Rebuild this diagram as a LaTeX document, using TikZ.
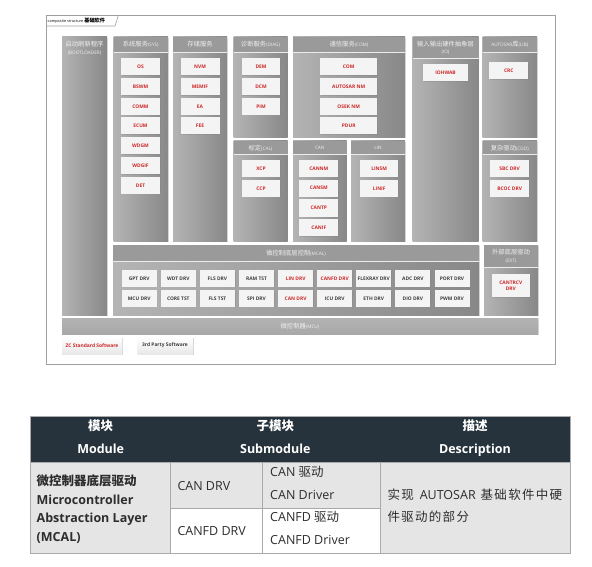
\documentclass[tikz,border=0pt]{standalone}
\usepackage{fontspec}
\setmainfont{Open Sans}
\newfontfamily\cjk{Noto Sans CJK SC}
\usetikzlibrary{shadows}
\definecolor{zred}{RGB}{206,40,40}
\definecolor{zdark}{RGB}{62,62,62}
\definecolor{thdr}{RGB}{39,51,60}
\definecolor{cellg}{RGB}{229,229,229}
\definecolor{tline}{RGB}{170,170,170}
\definecolor{colL}{RGB}{180,180,180}
\definecolor{colR}{RGB}{136,136,136}
\definecolor{colH}{RGB}{154,154,154}
\definecolor{htext}{RGB}{240,240,240}
\definecolor{boxf}{RGB}{244,244,244}
\definecolor{ttext}{RGB}{45,45,45}
\newcommand\zc[1]{{\cjk\fontsize{6.3}{7.5}\selectfont #1}}
\newcommand\zl[1]{{\fontsize{4.7}{7.5}\selectfont #1}}
\newcommand\zcol[7]{%
  \pgfmathsetmacro\zw{#4-#2}\pgfmathsetmacro\zh{#5-#3}%
  \node[colbody, minimum width=\zw pt, minimum height=\zh pt] (#1) at (#2,#3) {};%
  \fill[colH] (#2,#3) rectangle (#4,#6);%
  \draw[hline] (#2,#6) -- (#4,#6);%
  \node[htxt] (#1t) at ({(#2+#4)/2},{(#3+#6)/2}) {#7};%
}
\newcommand\cg{\hspace{1.3pt}}
\tikzset{
  colbody/.style={anchor=north west, inner sep=0pt, outer sep=0pt, left color=colL, right color=colR,
    drop shadow={shadow xshift=0.8pt, shadow yshift=-0.8pt, opacity=0.25}},
  hline/.style={draw=white!85!gray, line width=0.6pt},
  htxt/.style={text=htext, align=center, inner sep=0pt, font=\fontsize{6.3}{7.5}\selectfont},
  ibox/.style={fill=boxf, inner sep=0pt, minimum width=39pt, minimum height=17pt,
    font=\fontsize{4.9}{5.6}\selectfont\bfseries, text=zred, align=center,
    drop shadow={shadow xshift=0.6pt, shadow yshift=-0.6pt, opacity=0.3}},
  mbox/.style={ibox, minimum width=35pt, minimum height=16.7pt, text=zdark},
  mboxr/.style={mbox, text=zred},
  lbox/.style={inner sep=0pt, minimum height=17pt, top color=white, bottom color=gray!18,
    font=\fontsize{4.9}{5.6}\selectfont\bfseries,
    drop shadow={shadow xshift=0.8pt, shadow yshift=-0.8pt, opacity=0.3}},
  tl/.style={draw=tline, line width=0.8pt},
  ttx/.style={inner sep=0pt, text=ttext, font=\fontsize{12.5}{15}\selectfont},
  thx/.style={inner sep=0pt, text=white, font=\fontsize{12.5}{15}\selectfont\bfseries, anchor=base},
}
\begin{document}
\begin{tikzpicture}[x=1pt,y=-1pt]
\useasboundingbox (0,0) rectangle (592,567);
\fill[white] (0,0) rectangle (592,567);
% frame
\draw[draw=gray!75, line width=0.8pt] (46,15) rectangle (555,364);
\draw[draw=gray!75, line width=0.6pt] (46,26) -- (115,26) -- (118.5,15);
\node[inner sep=0pt, anchor=west, font=\fontsize{3.8}{4}\selectfont] (ttl) at (47.5,20.8) {composite structure {\cjk\bfseries\fontsize{5.2}{6}\selectfont 基础软件}};
% columns
\node[colbody, minimum width=45pt, minimum height=278pt] (boot) at (62,37) {};
\node[htxt] (boott) at (84.5,48.3) {\zc{启动刷新程序}\\\zl{(BOOTLOADER)}};
\zcol{sys}{113.5}{37}{168}{241}{52}{\zc{系统服务}\zl{(SYS)}}
\zcol{stor}{173}{37}{227}{241}{52}{\zc{存储服务}}
\zcol{diag}{233.5}{37}{287.5}{137.5}{52}{\zc{诊断服务}\zl{(DIAG)}}
\zcol{com}{293}{37}{405}{137.5}{52}{\zc{通信服务}\zl{(COM)}}
\zcol{io}{412.5}{37}{478.5}{241}{58.5}{\zc{输入输出硬件抽象层}\\\zl{(IO)}}
\zcol{lib}{482.5}{37}{537}{137.5}{52}{\zl{AUTOSAR}\zc{库}\zl{(LIB)}}
\zcol{cal}{233.5}{141}{287.5}{241}{154.5}{\zc{标定}\zl{(CAL)}}
\zcol{can}{293}{141}{346.5}{241}{154.5}{\zl{CAN}}
\zcol{lin}{351}{141}{405}{241}{154.5}{\zl{LIN}}
\zcol{cdd}{482.5}{141}{537}{241}{154.5}{\zc{复杂驱动}\zl{(CDD)}}
\zcol{mcal}{113}{245}{479}{315}{261}{\zc{微控制底层控制}\zl{(MCAL)}}
\zcol{ext}{484}{245}{538}{315}{267}{\zc{外部底层驱动}\\\zl{(EXT)}}
% MCU bar
\node[anchor=north west, inner sep=0pt, outer sep=0pt, minimum width=476pt, minimum height=16pt,
  top color=gray!60, bottom color=gray!68, drop shadow={shadow xshift=0.8pt, shadow yshift=-0.8pt, opacity=0.3}] (mcu) at (62,318) {};
\node[htxt] (mcut) at (mcu.center) {\zc{微控制器}\zl{(MCU)}};
% SYS
\node[ibox] (os) at (140.5,66.8) {OS};
\node[ibox] (bswm) at (140.5,86.5) {BSWM};
\node[ibox] (comm) at (140.5,106.3) {COMM};
\node[ibox] (ecum) at (140.5,126) {ECUM};
\node[ibox] (wdgm) at (140.5,145.8) {WDGM};
\node[ibox] (wdgif) at (140.5,165.5) {WDGIF};
\node[ibox] (det) at (140.5,185.3) {DET};
% storage
\node[ibox] (nvm) at (200,66.8) {NVM};
\node[ibox] (memif) at (200,86.5) {MEMIF};
\node[ibox] (ea) at (200,106.3) {EA};
\node[ibox] (fee) at (200,126) {FEE};
% diag
\node[ibox, minimum width=38.5pt] (dem) at (261,66.8) {DEM};
\node[ibox, minimum width=38.5pt] (dcm) at (261,86.5) {DCM};
\node[ibox, minimum width=38.5pt] (pim) at (261,106.3) {PIM};
% com
\node[ibox, minimum width=57.3pt] (comb) at (348.7,66.8) {COM};
\node[ibox, minimum width=57.3pt] (anm) at (348.7,86.5) {AUTOSAR NM};
\node[ibox, minimum width=57.3pt] (onm) at (348.7,106.3) {OSEK NM};
\node[ibox, minimum width=57.3pt] (pdur) at (348.7,126) {PDUR};
% io, lib
\node[ibox, minimum width=44.4pt] (iohwab) at (445.5,72.5) {IOHWAB};
\node[ibox] (crc) at (508.8,70.8) {CRC};
% cal
\node[ibox, minimum width=38.5pt] (xcp) at (261,168.4) {XCP};
\node[ibox, minimum width=38.5pt] (ccp) at (261,188.4) {CCP};
% can
\node[ibox] (cannm) at (318.8,168.4) {CANNM};
\node[ibox] (cansm) at (318.8,188.2) {CANSM};
\node[ibox] (cantp) at (318.8,208) {CANTP};
\node[ibox] (canif) at (318.8,227.7) {CANIF};
% lin
\node[ibox, minimum width=38.3pt] (linsm) at (379.2,168.4) {LINSM};
\node[ibox, minimum width=38.3pt] (linif) at (379.2,188.4) {LINIF};
% cdd
\node[ibox, minimum width=39.3pt] (sbc) at (509.7,168.4) {SBC DRV};
\node[ibox, minimum width=39.3pt] (bcoc) at (509.7,188.4) {BCOC DRV};
% mcal
\node[mbox] (gpt) at (139.2,278.3) {GPT DRV};
\node[mbox] (wdt) at (178.3,278.3) {WDT DRV};
\node[mbox] (flsd) at (217.4,278.3) {FLS DRV};
\node[mbox] (ram) at (256.5,278.3) {RAM TST};
\node[mboxr] (lind) at (295.6,278.3) {LIN DRV};
\node[mboxr] (canfdd) at (334.7,278.3) {CANFD DRV};
\node[mbox] (flex) at (373.8,278.3) {FLEXRAY DRV};
\node[mbox] (adc) at (412.9,278.3) {ADC DRV};
\node[mbox] (port) at (452,278.3) {PORT DRV};
\node[mbox] (mcud) at (139.2,298.3) {MCU DRV};
\node[mbox] (core) at (178.3,298.3) {CORE TST};
\node[mbox] (flst) at (217.4,298.3) {FLS TST};
\node[mbox] (spi) at (256.5,298.3) {SPI DRV};
\node[mboxr] (cand) at (295.6,298.3) {CAN DRV};
\node[mbox] (icu) at (334.7,298.3) {ICU DRV};
\node[mbox] (eth) at (373.8,298.3) {ETH DRV};
\node[mbox] (dio) at (412.9,298.3) {DIO DRV};
\node[mbox] (pwm) at (452,298.3) {PWM DRV};
% ext
\node[ibox, minimum width=38.3pt, minimum height=23pt] (trcv) at (510.8,285.8) {CANTRCV\\DRV};
% legend
\node[lbox, minimum width=60pt, text=zred] (zcs) at (92,345.5) {ZC Standard Software};
\node[lbox, minimum width=55.4pt, text=zdark] (trd) at (165,345.5) {3rd Party Software};
% table
\fill[thdr] (30.7,416) rectangle (570,462.3);
\fill[cellg] (30.7,462.3) rectangle (170.7,553.3);
\fill[cellg] (170.7,462.3) rectangle (380,508.3);
\fill[white] (170.7,508.3) rectangle (380,553.3);
\fill[cellg] (380,462.3) rectangle (570,553.3);
\draw[tl] (30.7,416) rectangle (570,553.3);
\draw[tl] (30.7,462.3) -- (570,462.3);
\draw[tl] (170.7,462.3) -- (170.7,553.3);
\draw[tl] (262.3,462.3) -- (262.3,553.3);
\draw[tl] (380,462.3) -- (380,553.3);
\draw[tl] (170.7,508.3) -- (380,508.3);
\node[thx] (h1a) at (100.7,430.5) {\cjk 模块};
\node[thx] (h1b) at (100.7,453.3) {Module};
\node[thx] (h2a) at (275.3,430.5) {\cjk 子模块};
\node[thx] (h2b) at (275.3,453.3) {Submodule};
\node[thx] (h3a) at (475,430.5) {\cjk 描述};
\node[thx] (h3b) at (475,453.3) {Description};
\node[ttx, anchor=base west, font=\fontsize{12.5}{15}\selectfont\bfseries] (m1) at (36.5,485.2) {\cjk 微控制器底层驱动};
\node[ttx, anchor=base west, font=\fontsize{12.5}{15}\selectfont\bfseries] (m2) at (36.5,504) {Microcontroller};
\node[ttx, anchor=base west, font=\fontsize{12.5}{15}\selectfont\bfseries] (m3) at (36.5,522.7) {Abstraction Layer};
\node[ttx, anchor=base west, font=\fontsize{12.5}{15}\selectfont\bfseries] (m4) at (36.5,541.5) {(MCAL)};
\node[ttx, anchor=base west] (s1) at (177.3,490) {CAN DRV};
\node[ttx, anchor=base west] (s2) at (177.3,535.7) {CANFD DRV};
\node[ttx, anchor=base west] (d1) at (270,476.5) {CAN {\cjk 驱动}};
\node[ttx, anchor=base west] (d2) at (270,499) {CAN Driver};
\node[ttx, anchor=base west] (d3) at (270,521.5) {CANFD {\cjk 驱动}};
\node[ttx, anchor=base west] (d4) at (270,544) {CANFD Driver};
\node[ttx, anchor=base west] (e1) at (387.3,499) {{\cjk 实\cg 现}\hspace{6pt}AUTOSAR\hspace{5pt}{\cjk 基\cg 础\cg 软\cg 件\cg 中\cg 硬}};
\node[ttx, anchor=base west] (e2) at (387.3,521.5) {\cjk 件\cg 驱\cg 动\cg 的\cg 部\cg 分};
\end{tikzpicture}
\end{document}
